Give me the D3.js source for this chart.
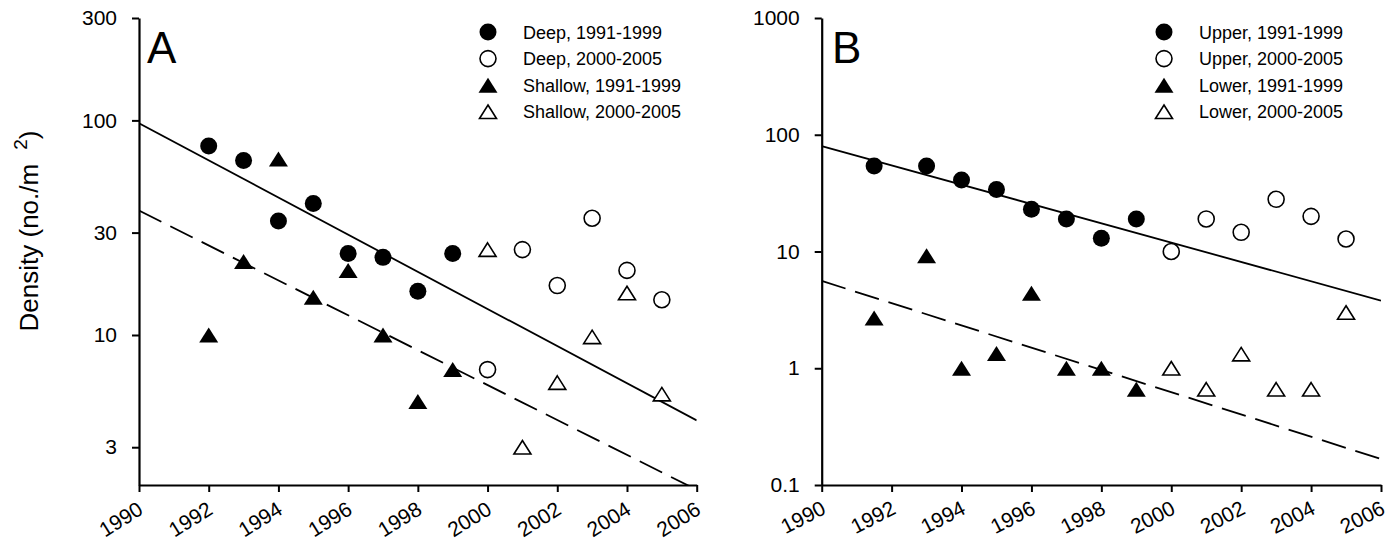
<!DOCTYPE html>
<html>
<head>
<meta charset="utf-8">
<script src="https://cdn.jsdelivr.net/npm/d3@7"></script>
<style>
  body { margin: 0; background: #fff; }
  text { font-family: "Liberation Sans", Arial, sans-serif; fill: #000; }
</style>
</head>
<body>
<svg id="chart" width="1395" height="542"></svg>
<script>
// ---- data ----
const yearsEarlyA = [1992, 1993, 1994, 1995, 1996, 1997, 1998, 1999];
const yearsEarlyB = [1991.5, 1993, 1994, 1995, 1996, 1997, 1998, 1999];
const yearsLate = [2000, 2001, 2002, 2003, 2004, 2005];

const deepEarly = [76, 65, 34, 41, 24, 23, 16, 24];
const deepLate = [6.9, 25, 17, 35, 20, 14.6];
const shallowEarly = [10, 22, 66, 15, 20, 10, 4.9, 6.9];
const shallowLate = [25, 3, 6, 9.8, 15.7, 5.3];

const upperEarly = [54, 54, 41, 34, 23, 19, 13, 19];
const upperLate = [10, 19, 14.6, 28, 20, 12.8];
const lowerEarly = [2.7, 9.2, 1, 1.34, 4.4, 1, 1, 0.66];
const lowerLate = [1, 0.66, 1.32, 0.66, 0.66, 3];

// regression lines, value at 1990 and 2006
const fitYears = [1990, 2006];
const fitDeep = [97, 4.0];
const fitShallow = [38, 1.9];
const fitUpper = [80, 3.8];
const fitLower = [5.6, 0.167];

const xTicks = d3.range(1990, 2007, 2);
const yTicksA = [3, 10, 30, 100, 300];
const yTicksB = [0.1, 1, 10, 100, 1000];

const legendA = ["Deep, 1991-1999", "Deep, 2000-2005", "Shallow, 1991-1999", "Shallow, 2000-2005"];
const legendB = ["Upper, 1991-1999", "Upper, 2000-2005", "Lower, 1991-1999", "Lower, 2000-2005"];

const svg = d3.select("#chart");
const plotTop = 18, plotBottom = 485;

// triangle path centred on its bounding box
function triangle(w, h) {
  return `M0,${-h / 2}L${w / 2},${h / 2}L${-w / 2},${h / 2}Z`;
}

function drawMarker(g, x, y, kind) {
  if (kind === "circleFilled") {
    g.append("circle").attr("cx", x).attr("cy", y).attr("r", 8.5).attr("fill", "#000");
  } else if (kind === "circleOpen") {
    g.append("circle").attr("cx", x).attr("cy", y).attr("r", 8).attr("fill", "#fff")
      .attr("stroke", "#000").attr("stroke-width", 1.6);
  } else if (kind === "triFilled") {
    g.append("path").attr("d", triangle(19, 15)).attr("transform", `translate(${x},${y})`)
      .attr("fill", "#000");
  } else {
    g.append("path").attr("d", triangle(17, 13.5)).attr("transform", `translate(${x},${y})`)
      .attr("fill", "#fff").attr("stroke", "#000").attr("stroke-width", 1.6);
  }
}

const kinds = ["circleFilled", "circleOpen", "triFilled", "triOpen"];

/**
 * Draw one panel
 */
function drawPanel(opts) {
  const x = d3.scaleLinear().domain([1990, 2006]).range([opts.left, opts.right]);
  const y = d3.scaleLog().domain(opts.yDomain).range([plotBottom, plotTop]);

  const g = svg.append("g");

  const clipId = "clip" + opts.letter;
  svg.append("clipPath").attr("id", clipId)
    .append("rect").attr("x", opts.left).attr("y", plotTop)
    .attr("width", opts.right - opts.left).attr("height", plotBottom - plotTop);

  // regression lines
  const line = d3.line().x(d => x(d[0])).y(d => y(d[1]));
  g.append("path").datum(d3.zip(fitYears, opts.fitSolid)).attr("d", line)
    .attr("clip-path", `url(#${clipId})`)
    .attr("fill", "none").attr("stroke", "#000").attr("stroke-width", 1.8);
  g.append("path").datum(d3.zip(fitYears, opts.fitDashed)).attr("d", line)
    .attr("clip-path", `url(#${clipId})`)
    .attr("fill", "none").attr("stroke", "#000").attr("stroke-width", 1.8)
    .attr("stroke-dasharray", "25,10");

  // axes
  const yAxis = d3.axisLeft(y).tickValues(opts.yTicks).tickFormat(d3.format("~g"))
    .tickSize(7).tickSizeOuter(0).tickPadding(15);
  const ya = g.append("g").attr("transform", `translate(${opts.left},0)`).call(yAxis);
  ya.selectAll("text").attr("font-size", 21).attr("font-family", null);

  const xAxis = d3.axisBottom(x).tickValues(xTicks).tickFormat(d3.format("d"))
    .tickSize(7).tickSizeOuter(0);
  const xa = g.append("g").attr("transform", `translate(0,${plotBottom})`).call(xAxis);
  xa.selectAll("text")
    .attr("font-size", 21).attr("font-family", null)
    .attr("text-anchor", "end")
    .attr("y", 0).attr("dy", 0)
    .attr("transform", `translate(5,28) rotate(${opts.labelAngle})`);

  [ya, xa].forEach(a => {
    a.select(".domain").attr("stroke-width", 2.2);
    a.selectAll(".tick line").attr("stroke-width", 2);
  });

  // points
  const pts = g.append("g");
  const sets = [
    [opts.yearsEarly, opts.series[0], kinds[0]],
    [yearsLate, opts.series[1], kinds[1]],
    [opts.yearsEarly, opts.series[2], kinds[2]],
    [yearsLate, opts.series[3], kinds[3]]
  ];
  sets.forEach(([yrs, vals, kind]) => {
    yrs.forEach((yr, i) => drawMarker(pts, x(yr), y(vals[i]), kind));
  });

  // panel letter
  g.append("text").attr("x", opts.letterX).attr("y", 63)
    .attr("font-size", 44).text(opts.letter);

  // legend
  const lg = g.append("g");
  opts.legend.forEach((name, i) => {
    const cy = 32 + i * 26.6;
    drawMarker(lg, opts.legendX, cy, kinds[i]);
    lg.append("text").attr("x", opts.legendX + 35).attr("y", cy + 6.5)
      .attr("font-size", 18).text(name);
  });
}

drawPanel({
  letter: "A", letterX: 147, left: 139, right: 696.7, yDomain: [2, 300], yTicks: yTicksA,
  yearsEarly: yearsEarlyA, series: [deepEarly, deepLate, shallowEarly, shallowLate],
  fitSolid: fitDeep, fitDashed: fitShallow, legend: legendA, legendX: 488, labelAngle: -32
});

drawPanel({
  letter: "B", letterX: 832, left: 821.7, right: 1381, yDomain: [0.1, 1000], yTicks: yTicksB,
  yearsEarly: yearsEarlyB, series: [upperEarly, upperLate, lowerEarly, lowerLate],
  fitSolid: fitUpper, fitDashed: fitLower, legend: legendB, legendX: 1164, labelAngle: -27
});

// y axis title
const title = svg.append("text").attr("transform", "translate(38,231) rotate(-90)")
  .attr("text-anchor", "middle").attr("font-size", 26);
title.append("tspan").text("Density (no./m");
title.append("tspan").attr("dx", 14).attr("dy", -11).attr("font-size", 19).text("2");
title.append("tspan").attr("dy", 11).text(")");
</script>
</body>
</html>
